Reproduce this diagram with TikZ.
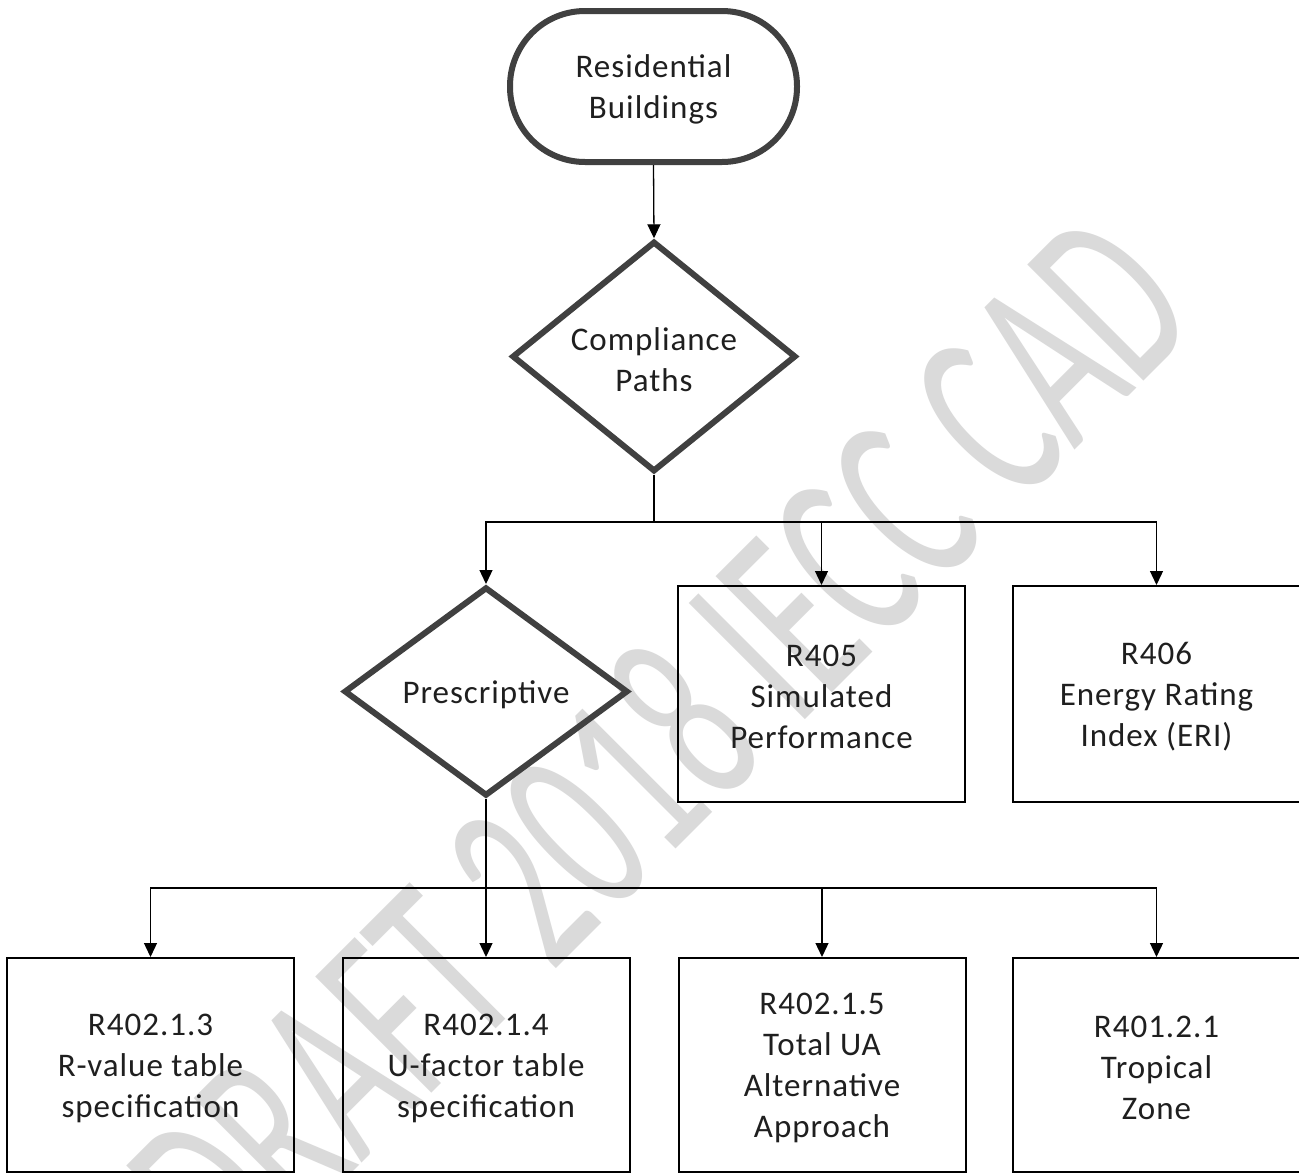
\documentclass[tikz,border=0pt]{standalone}
\usepackage{fontspec}
\usepackage{graphicx}
\setmainfont{Carlito}
\newfontfamily\lblfont{Carlito}[LetterSpace=3]
\usetikzlibrary{shapes.geometric,arrows.meta}
\definecolor{dg}{HTML}{404040}
\definecolor{txt}{HTML}{1F1F1F}
\definecolor{wmark}{HTML}{DADADA}
\newcommand\dn[1]{\raisebox{-3pt}[\height][\depth]{#1}}
\tikzset{
  lbl/.style={font=\lblfont\fontsize{33}{41}\selectfont, text=txt, align=center},
  term/.style={lbl, draw=dg, line width=6pt, rounded corners=75pt, minimum width=287pt, minimum height=151pt},
  decision/.style={lbl, diamond, draw=dg, line width=6pt, minimum width=284pt, minimum height=209pt, inner sep=0pt},
  stepbox/.style={lbl, rectangle, draw=black, line width=2pt, minimum width=287pt},
  conn/.style={draw=black, line width=1.3pt, -{Triangle[width=13pt,length=14pt]}},
  plain/.style={draw=black, line width=1.3pt}
}
\begin{document}
\begin{tikzpicture}[x=1pt,y=-1pt]
\clip (0,0) rectangle (1299,1173);
\fill[white] (0,0) rectangle (1299,1173);
% watermark
\node[rotate=45, anchor=base east, text=wmark, inner sep=0pt, font=\fontsize{256}{300}\selectfont] (wm) at (1204,321) {\scalebox{0.6}[1]{DRAFT 2018 IECC CAD}};
% nodes
\node[term] (term) at (653.5,86.5) {\dn{Residential}\\\dn{Buildings}};
\node[decision] (comp) at (654,356.5) {\dn{Compliance}\\\dn{Paths}};
\node[decision] (pres) at (486,691.5) {\dn{Prescriptive}};
\node[stepbox, minimum height=216pt] (r405) at (821.5,694) {\dn{R405}\\\dn{Simulated}\\\dn{Performance}};
\node[stepbox, minimum height=216pt] (r406) at (1156.5,694) {\dn{R406}\\\dn{Energy Rating}\\\dn{Index (ERI)}};
\node[stepbox, minimum height=214pt] (b1) at (150.5,1065) {\dn{R402.1.3}\\\dn{R-value table}\\\dn{specification}};
\node[stepbox, minimum height=214pt] (b2) at (486,1065) {\dn{R402.1.4}\\\dn{U-factor table}\\\dn{specification}};
\node[stepbox, minimum height=214pt] (b3) at (822,1065) {\dn{R402.1.5}\\\dn{Total UA}\\\dn{Alternative}\\\dn{Approach}};
\node[stepbox, minimum height=214pt] (b4) at (1156.5,1065) {\dn{R401.2.1}\\\dn{Tropical}\\\dn{Zone}};
% connectors
\coordinate (j1) at (654,522);
\coordinate (j2) at (486,888);
\draw[conn] (term.south) -- (comp.north);
\draw[plain] (comp.south) -- (j1);
\draw[conn] (j1) -| (pres.north);
\draw[conn] (j1) -| (r405.north);
\draw[conn] (j1) -| (r406.north);
\draw[plain] (pres.south) -- (j2);
\draw[conn] (j2) -| (b1.north);
\draw[conn] (j2) -- (b2.north);
\draw[conn] (j2) -| (b3.north);
\draw[conn] (j2) -| (b4.north);
\end{tikzpicture}
\end{document}
